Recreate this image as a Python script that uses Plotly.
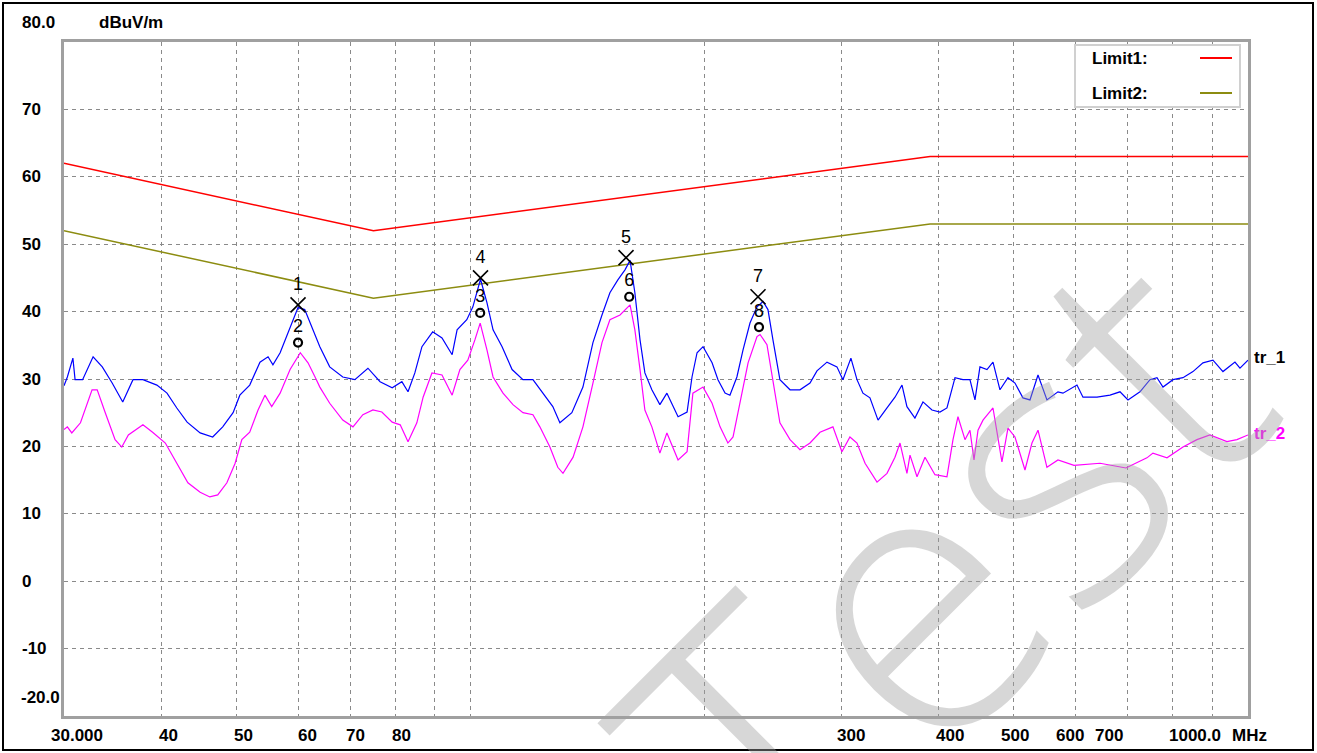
import math
import plotly.graph_objects as go

# ---------------- data ----------------
freq1 = [30.0, 30.3, 30.8, 31.0, 31.7, 32.7, 33.6, 34.6, 35.7, 36.8, 37.9, 39.5, 40.7, 41.9, 43.2,
         44.9, 46.6, 48.0, 49.5, 50.5, 52.0, 53.6, 54.9, 55.7, 56.9, 58.6, 60.0, 61.2, 62.5, 64.0,
         65.9, 68.5, 71.0, 73.8, 76.5, 79.3, 81.6, 83.1, 84.8, 86.6, 89.4, 91.9, 94.7, 96.1, 98.9,
         100.7, 103.0, 105.0, 106.9, 109.8, 113.1, 116.8, 120.3, 123.9, 127.6, 130.3, 135.0, 139.5,
         143.7, 147.6, 151.1, 154.7, 158.0, 160.4, 162.7, 165.2, 167.6, 171.1, 175.2, 178.9, 181.6,
         184.9, 189.9, 192.7, 195.6, 199.1, 204.5, 208.1, 212.5, 215.6, 220.1, 224.1, 228.8, 233.6,
         237.8, 241.3, 244.9, 250.0, 257.6, 265.3, 273.3, 279.0, 287.4, 296.0, 301.3, 308.5, 314.1,
         319.7, 326.4, 334.3, 343.3, 351.5, 358.9, 364.2, 372.9, 381.9, 392.2, 401.6, 410.0, 419.9,
         429.9, 438.9, 445.5, 452.1, 461.6, 469.9, 479.7, 491.2, 501.5, 513.5, 524.3, 536.9, 551.3,
         569.6, 578.1, 602.6, 613.4, 639.4, 664.5, 684.5, 700.9, 726.2, 748.0, 763.7, 777.4, 800.8,
         824.8, 849.6, 875.1, 901.4, 928.5, 962.1, 976.5, 1000.0]
tr1 = [29.0, 30.3, 33.1, 29.9, 29.9, 33.3, 31.8, 29.4, 26.6, 29.9, 29.9, 29.1, 27.9, 25.7, 23.6,
       22.0, 21.4, 22.9, 25.0, 27.6, 29.1, 32.5, 33.3, 32.1, 33.9, 37.7, 40.6, 40.3, 37.7, 34.8,
       31.8, 30.3, 29.9, 31.6, 29.6, 28.7, 29.6, 28.1, 30.9, 34.8, 37.0, 36.1, 33.6, 37.3, 38.8,
       40.7, 44.8, 41.3, 37.3, 34.8, 31.4, 29.9, 29.9, 27.9, 25.9, 23.5, 25.0, 28.8,
       35.4, 39.5, 42.8, 44.7, 46.2, 47.6, 42.8, 35.8, 30.9, 28.4, 26.2, 27.9, 26.4,
       24.4, 25.1, 30.3, 33.9, 34.8, 32.4, 29.9, 27.9, 27.6, 30.3, 34.3, 38.3, 40.7,
       41.5, 40.3, 35.8, 29.9, 28.4, 28.4, 29.4, 31.2, 32.5, 31.8, 29.9, 33.1, 29.9,
       27.9, 27.2, 23.9, 25.7, 27.3, 29.1, 25.9, 24.2, 26.6, 25.4, 25.1, 25.7, 30.2,
       29.9, 29.9, 26.9, 31.8, 31.4, 32.5, 28.4, 30.2, 29.4, 27.2, 26.9, 30.6, 26.9,
       28.1, 27.9, 29.1, 27.3, 27.3, 27.6, 28.1, 26.9, 28.1, 29.9, 30.2, 28.8, 29.9,
       30.2, 31.1, 32.4, 32.8, 31.1, 32.5, 31.6, 32.8]

freq2 = [30.0, 30.3, 30.7, 31.5, 32.6, 33.1, 33.9, 34.9, 35.6, 36.3, 37.9, 39.0, 40.5, 41.9, 43.3,
         44.9, 46.2, 47.3, 48.6, 49.8, 50.8, 52.0, 53.3, 54.4, 55.5, 56.9, 58.6, 60.4, 61.8, 63.1,
         64.0, 65.9, 68.5, 70.6, 72.7, 74.9, 76.9, 79.3, 81.2, 83.1, 85.3, 86.9, 89.2, 91.9, 94.7,
         96.9, 99.2, 101.3, 102.9, 105.0, 106.9, 110.1, 113.4, 116.8, 120.3, 122.8, 126.5, 129.5,
         131.5, 135.5, 139.5, 143.7, 147.6, 151.1, 155.7, 160.4, 162.7, 165.2, 167.6, 171.1, 175.2,
         178.9, 182.1, 184.9, 189.9, 193.2, 199.1, 204.5, 209.4, 214.3, 217.6, 222.1, 227.5, 233.6,
         235.7, 240.6, 244.9, 250.0, 257.6, 265.3, 273.3, 281.5, 292.5, 300.4, 307.6, 314.1, 321.7,
         333.3, 343.3, 351.5, 356.8, 364.2, 367.5, 375.2, 384.2, 395.7, 410.0, 417.4, 423.6, 432.5,
         438.9, 444.2, 449.5, 456.2, 469.9, 476.8, 482.5, 491.2, 501.5, 516.6, 527.4, 536.9, 551.3,
         569.6, 597.3, 645.2, 696.6, 741.3, 754.6, 786.7, 824.8, 859.7, 893.4, 939.5, 967.8, 1000.0]
tr2 = [22.5, 22.9, 22.0, 23.5, 28.4, 28.4, 25.0, 21.0, 19.9, 21.7, 23.2, 22.1, 20.5, 17.5, 14.6,
       13.2, 12.5, 12.8, 14.6, 17.5, 21.0, 22.1, 25.4, 27.6, 25.9, 27.9, 31.4, 33.9, 32.4, 30.3,
       28.8, 26.4, 23.9, 22.9, 24.7, 25.4, 25.1, 23.6, 23.2, 20.7, 23.5, 27.3, 30.9, 30.6, 27.6,
       31.4, 32.8, 35.8, 38.3, 34.3, 30.3, 27.9, 26.2, 25.0, 24.7, 22.9, 19.9, 16.9,
       16.0, 18.4, 22.9, 29.4, 35.4, 38.8, 39.5, 41.0, 37.3, 31.4, 25.4, 22.9, 19.0,
       22.0, 19.9, 18.0, 19.2, 27.9, 28.8, 26.4, 22.9, 20.5, 21.4, 26.4, 32.4, 36.3,
       36.6, 35.1, 29.9, 23.5, 21.0, 19.5, 20.5, 22.1, 22.9, 19.2, 21.4, 20.5, 17.5,
       14.7, 16.0, 18.4, 20.5, 16.0, 18.7, 15.5, 18.4, 15.8, 15.5, 21.0, 24.4, 21.0,
       22.4, 18.0, 22.4, 23.9, 25.7, 21.0, 17.7, 22.7, 21.4, 16.5, 20.5, 22.4, 16.9,
       18.0, 17.2, 17.5, 16.8, 18.3, 19.0, 18.3, 19.9, 21.0, 21.7, 20.7, 21.0, 21.7]

lim_freq = [30, 75, 390, 1000]
limit1 = [62, 52, 63, 63]
limit2 = [52, 42, 53, 53]

peak_freq = [60.0, 103.0, 158.5, 234.3]
peak_level = [41.0, 45.0, 48.0, 42.2]
peak_labels = ["1", "4", "5", "7"]
avg_freq = [60.0, 102.9, 160.0, 235.0]
avg_level = [35.4, 39.8, 42.2, 37.7]
avg_labels = ["2", "3", "6", "8"]

y_ticks = [70, 60, 50, 40, 30, 20, 10, 0, -10]
x_grid = [40, 50, 60, 70, 80, 90, 100, 200, 300, 400, 500, 600, 700, 800, 900]
x_tick_vals = [30, 40, 50, 60, 70, 80, 300, 400, 500, 600, 700, 1000]
x_tick_text = ["30.000", "40", "50", "60", "70", "80", "300", "400", "500", "600", "700", "1000.0"]
x_tick_shift = [13, 7, 7, 9, 5, 6, 10, 11, 1, -6, -19, -53]

# ---------------- figure ----------------
W, H = 1317, 753
L, T = 64, 42
R = W - 1248
B = H - 716
PW, PH = W - L - R, H - T - B

def px(x):  # screen x -> paper x
    return (x - L) / PW

def py(y):  # screen y -> paper y
    return (H - B - y) / PH

FONT = "Liberation Sans"
GRID = "#8a8a8a"

fig = go.Figure()

fig.add_trace(go.Scatter(x=lim_freq, y=limit1, mode="lines",
                         line=dict(color="#ff0000", width=1.5), name="Limit1"))
fig.add_trace(go.Scatter(x=lim_freq, y=limit2, mode="lines",
                         line=dict(color="#8c8c10", width=1.5), name="Limit2"))
fig.add_trace(go.Scatter(x=freq2, y=tr2, mode="lines",
                         line=dict(color="#ff00ff", width=1.2), name="tr_2"))
fig.add_trace(go.Scatter(x=freq1, y=tr1, mode="lines",
                         line=dict(color="#0000ff", width=1.2), name="tr_1"))

fig.add_trace(go.Scatter(x=avg_freq, y=avg_level, mode="markers+text", text=avg_labels,
                         textposition="top center",
                         textfont=dict(family=FONT, size=18, color="black"),
                         marker=dict(symbol="circle-open", size=8, color="black",
                                     line=dict(width=2.2, color="black"))))
fig.add_trace(go.Scatter(x=peak_freq, y=peak_level, mode="markers+text", text=peak_labels,
                         textposition="top center",
                         textfont=dict(family=FONT, size=18, color="black"),
                         marker=dict(symbol="x-thin", size=15, color="black",
                                     line=dict(width=1.6, color="black"))))

def label(text, x, y, xref="paper", yref="paper", xanchor="left", yanchor="middle",
          size=17, color="black", **kw):
    d = dict(x=x, y=y, xref=xref, yref=yref, text=text, xanchor=xanchor, yanchor=yanchor,
             showarrow=False, font=dict(family=FONT, size=size, color=color))
    d.update(kw)
    return d

ann = []
for v in y_ticks:
    ann.append(label(f"<b>{v}</b>", px(20), v, yref="y"))
ann.append(label("<b>80.0</b>", px(20), 80, yref="y", yshift=20))
ann.append(label("<b>-20.0</b>", px(19), -20, yref="y", yshift=19))
ann.append(label("<b>dBuV/m</b>", px(97), 80, yref="y", yshift=20))
for v, t, s in zip(x_tick_vals, x_tick_text, x_tick_shift):
    ann.append(label(f"<b>{t}</b>", math.log10(v), 0, xref="x", xanchor="center",
                     yanchor="top", yshift=-8, xshift=s))
ann.append(label("<b>MHz</b>", math.log10(1000), 0, xref="x", xanchor="center",
                 yanchor="top", yshift=-8, xshift=1))
ann.append(label("<b>tr_1</b>", 1.0, tr1[-1], yref="y", xshift=4, yshift=3))
ann.append(label("<b>tr_2</b>", 1.0, tr2[-1], yref="y", xshift=4, yshift=1, color="#ff00ff"))
ann.append(label("<b>Limit1:</b>", px(1090), py(58)))
ann.append(label("<b>Limit2:</b>", px(1090), py(93)))
# watermark
ann.append(dict(x=px(935), xref="paper", y=py(560), yref="paper", text="Test",
                textangle=-45, showarrow=False, xanchor="center", yanchor="middle",
                font=dict(family="Open Sans", size=380, color="rgba(160,160,160,0.42)",
                          weight=300)))

shapes = [
    dict(type="rect", xref="paper", yref="paper", x0=px(1075), x1=px(1240), y0=py(107), y1=py(45),
         line=dict(color="#d0d0d0", width=2), fillcolor="white", layer="above"),
    dict(type="line", xref="paper", yref="paper", x0=px(1200), x1=px(1232), y0=py(58), y1=py(58),
         line=dict(color="#ff0000", width=2)),
    dict(type="line", xref="paper", yref="paper", x0=px(1200), x1=px(1232), y0=py(93), y1=py(93),
         line=dict(color="#8c8c10", width=2)),
    dict(type="rect", xref="paper", yref="paper", x0=px(3), x1=px(1313), y0=py(750), y1=py(3),
         line=dict(color="black", width=2)),
]

fig.update_layout(
    width=W, height=H,
    margin=dict(l=L, r=R, t=T, b=B),
    paper_bgcolor="white", plot_bgcolor="white",
    showlegend=False,
    annotations=ann, shapes=shapes,
    xaxis=dict(type="log", range=[math.log10(30), math.log10(1000)], tickvals=x_grid,
               showticklabels=False, ticks="", showgrid=True, gridcolor=GRID, gridwidth=1,
               griddash="4px,4px", showline=True, linecolor="#a0a0a0", linewidth=3, mirror=True,
               zeroline=False),
    yaxis=dict(range=[-20, 80], tickvals=y_ticks, showticklabels=False, ticks="",
               showgrid=True, gridcolor=GRID, gridwidth=1, griddash="4px,4px",
               showline=True, linecolor="#a0a0a0", linewidth=3, mirror=True, zeroline=False),
)

# remove the default 8px page margin so the figure sits at the window's top-left corner
fig.write_html("out.html", config={"displayModeBar": False},
               post_script="document.body.style.margin='0px';")
